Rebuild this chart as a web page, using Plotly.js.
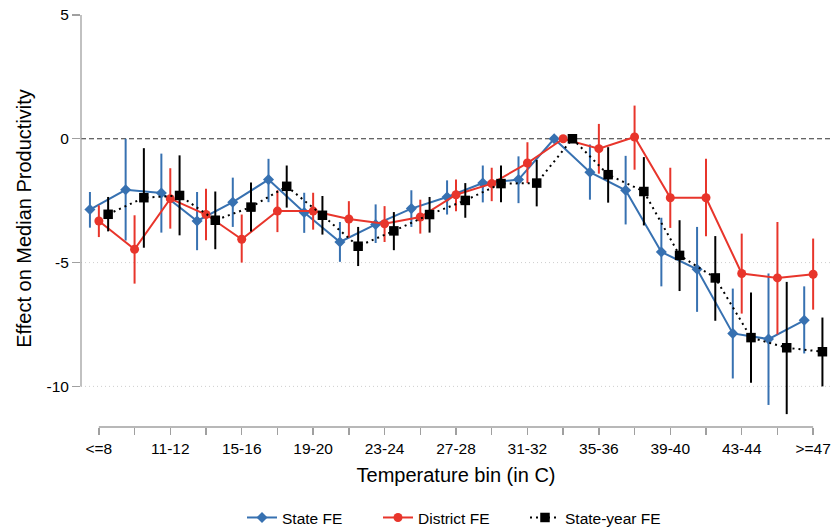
<!DOCTYPE html>
<html>
<head>
<meta charset="utf-8">
<script src="https://cdn.plot.ly/plotly-3.0.1.min.js"></script>
<style>html,body{margin:0;padding:0;background:#fff;}#chart{width:831px;height:529px;}</style>
</head>
<body>
<div id="chart"></div>
<script>
// Temperature bins
const categories = ["<=8","9-10","11-12","13-14","15-16","17-18","19-20","21-22","23-24","25-26","27-28","29-30","31-32","33-34","35-36","37-38","39-40","41-42","43-44","45-46",">=47"];
const xTickLabels = ["<=8","","11-12","","15-16","","19-20","","23-24","","27-28","","31-32","","35-36","","39-40","","43-44","",">=47"];

// State FE
const stateEst = [-2.86,-2.06,-2.19,-3.32,-2.56,-1.65,-2.98,-4.17,-3.46,-2.82,-2.35,-1.79,-1.65,0,-1.35,-2.08,-4.57,-5.27,-7.86,-8.09,-7.33];
const stateLo  = [-3.59,-4.11,-3.79,-4.50,-3.56,-2.56,-3.80,-4.97,-4.21,-3.56,-3.06,-2.57,-2.60,0,-2.46,-3.46,-5.96,-6.99,-9.68,-10.75,-8.67];
const stateHi  = [-2.15,0.00,-0.60,-2.15,-1.57,-0.81,-2.18,-3.36,-2.65,-2.08,-1.68,-1.08,-0.71,0,-0.23,-0.69,-3.19,-3.56,-6.05,-5.44,-5.96];

// District FE
const distEst = [-3.32,-4.46,-2.42,-3.06,-4.06,-2.92,-2.92,-3.24,-3.43,-3.16,-2.26,-1.81,-0.98,0,-0.40,0.07,-2.38,-2.38,-5.44,-5.62,-5.47];
const distLo  = [-3.97,-5.85,-3.63,-4.10,-5.00,-3.77,-3.67,-3.99,-4.17,-3.83,-2.93,-2.52,-1.79,0,-1.41,-1.25,-3.60,-3.94,-7.06,-7.90,-6.90];
const distHi  = [-2.69,-3.09,-1.19,-2.02,-3.06,-2.08,-2.18,-2.52,-2.72,-2.46,-1.64,-1.17,-0.14,0,0.60,1.34,-1.17,-0.81,-3.83,-3.36,-4.03];

// State-year FE
const syEst = [-3.05,-2.38,-2.29,-3.29,-2.76,-1.92,-3.09,-4.34,-3.72,-3.06,-2.49,-1.81,-1.79,0,-1.45,-2.13,-4.71,-5.62,-8.03,-8.44,-8.60];
const syLo  = [-3.74,-4.40,-3.90,-4.46,-3.74,-2.78,-3.87,-5.14,-4.50,-3.79,-3.19,-2.56,-2.73,0,-2.58,-3.50,-6.15,-7.35,-9.85,-11.12,-10.00];
const syHi  = [-2.35,-0.38,-0.67,-2.13,-1.77,-1.08,-2.31,-3.56,-2.96,-2.35,-1.79,-1.08,-0.85,0,-0.34,-0.74,-3.29,-3.93,-6.21,-5.78,-7.22];

const BLUE = '#3771b1', RED = '#e8352b', BLACK = '#000000';
const FONT = 'Liberation Sans, Arial, Helvetica, sans-serif';
const idx = categories.map((c,i)=>i);

function mk(name, est, lo, hi, off, color, symbol, size, dash, legendId) {
  return {
    type: 'scatter', mode: 'lines+markers', name: name,
    x: idx.map(i => i + off), y: est,
    line: {color: color, width: 2, dash: dash},
    marker: {color: color, symbol: symbol, size: size},
    error_y: {type: 'data', symmetric: false,
      array: hi.map((h,i)=>h-est[i]), arrayminus: est.map((e,i)=>e-lo[i]),
      color: color, thickness: 2, width: 0},
    legend: legendId,
    hoverinfo: 'skip'
  };
}

const traces = [
  mk('State FE', stateEst, stateLo, stateHi, -0.25, BLUE, 'diamond', 8.5, 'solid', 'legend'),
  mk('District FE', distEst, distLo, distHi, 0, RED, 'circle', 9, 'solid', 'legend2'),
  mk('State-year FE', syEst, syLo, syHi, 0.26, BLACK, 'square', 9.5, '2px,4px', 'legend3')
];

const legendBase = {orientation: 'h', yanchor: 'middle', xanchor: 'left', y: -0.218,
  font: {family: FONT, size: 15.5, color: '#000'}, bgcolor: 'rgba(0,0,0,0)', borderwidth: 0};

const layout = {
  width: 831, height: 529,
  margin: {l: 81, r: 0, t: 10, b: 102, autoexpand: false},
  paper_bgcolor: '#fff', plot_bgcolor: '#fff',
  font: {family: FONT, size: 15, color: '#000'},
  showlegend: true,
  legend:  Object.assign({}, legendBase, {x: (242-81)/750}),
  legend2: Object.assign({}, legendBase, {x: (378-81)/750}),
  legend3: Object.assign({}, legendBase, {x: (525-81)/750}),
  xaxis: {
    range: [-0.5, 20.5], showgrid: false, zeroline: false, showline: false, automargin: false,
    tickmode: 'array', tickvals: idx, ticktext: xTickLabels,
    ticks: 'outside', ticklen: 7, tickwidth: 1.3, tickcolor: '#a0a0a0',
    tickfont: {family: FONT, size: 15.5, color: '#000'},
    title: {text: 'Temperature bin (in C)', font: {family: FONT, size: 20, color: '#000'}, standoff: 12},
    fixedrange: true
  },
  yaxis: {
    range: [-11.64, 5.2], showgrid: false, zeroline: false, showline: false, automargin: false,
    tickmode: 'array', tickvals: [5, 0, -5, -10], ticktext: ['5','0','-5','-10'],
    ticks: 'outside', ticklen: 8, tickwidth: 1.3, tickcolor: '#a0a0a0',
    tickfont: {family: FONT, size: 15.5, color: '#000'},
    title: {text: 'Effect on Median Productivity', font: {family: FONT, size: 20, color: '#000'}, standoff: 9},
    fixedrange: true
  },
  shapes: [
    {type: 'line', xref: 'paper', yref: 'y', x0: 0, x1: 1, y0: -5, y1: -5, layer: 'below',
     line: {color: '#cfcfcf', width: 1, dash: '1px,3px'}},
    {type: 'line', xref: 'paper', yref: 'y', x0: 0, x1: 1, y0: -10, y1: -10, layer: 'below',
     line: {color: '#cfcfcf', width: 1, dash: '1px,3px'}},
    {type: 'line', xref: 'paper', yref: 'y', x0: 0, x1: 1, y0: 0, y1: 0, layer: 'below',
     line: {color: '#333', width: 1.2, dash: '5px,3px'}},
    {type: 'line', xref: 'paper', yref: 'y', x0: 0, x1: 0, y0: 5, y1: -10, layer: 'above',
     line: {color: '#a0a0a0', width: 1.3}},
    {type: 'line', xref: 'x', yref: 'paper', x0: 0, x1: 20, y0: 0, y1: 0, layer: 'above',
     line: {color: '#a0a0a0', width: 1.3}}
  ]
};

Plotly.newPlot('chart', traces, layout, {displayModeBar: false, staticPlot: true});
</script>
</body>
</html>
